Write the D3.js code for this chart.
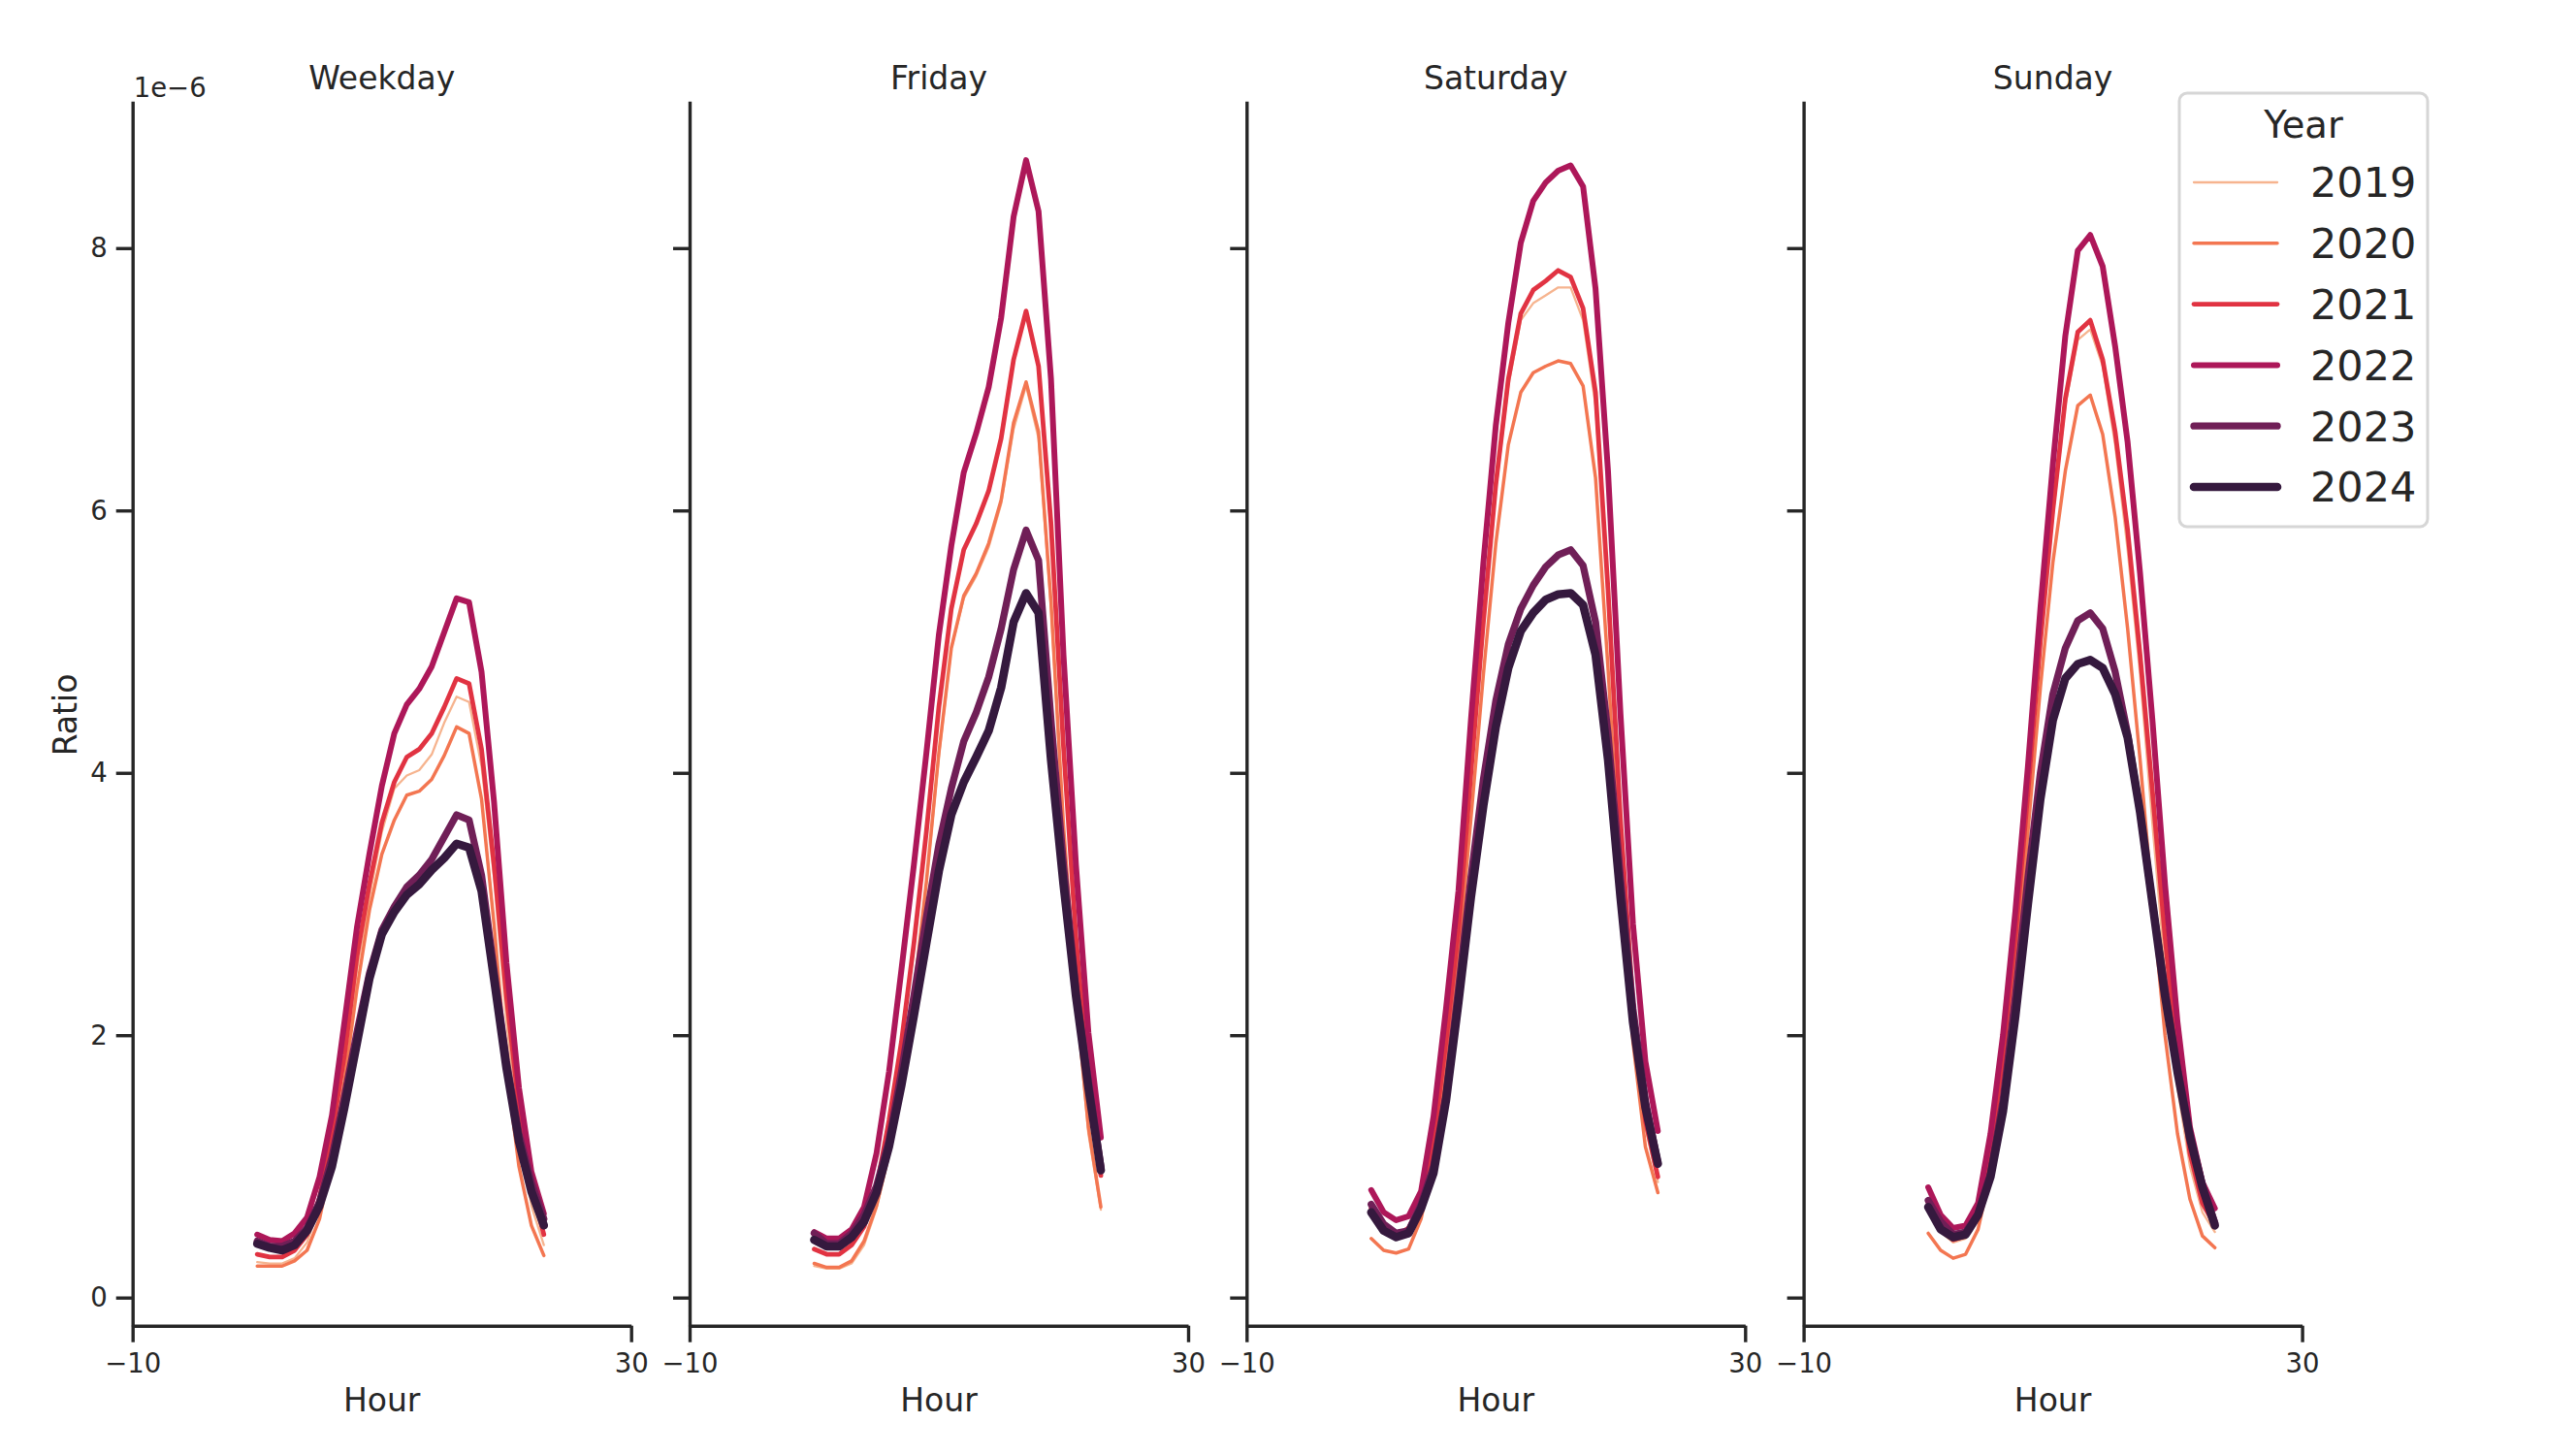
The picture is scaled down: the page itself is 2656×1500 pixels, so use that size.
<!DOCTYPE html>
<html>
<head>
<meta charset="utf-8">
<script src="https://cdn.jsdelivr.net/npm/d3@7"></script>
<style>
  body { margin: 0; background: #fff; }
  svg { display: block; }
  text { font-family: "DejaVu Sans", sans-serif; fill: #262626; }
</style>
</head>
<body>
<div id="chart"></div>
<script>
// ratio of traffic by hour, values in units of 1e-6
var hours = [0,1,2,3,4,5,6,7,8,9,10,11,12,13,14,15,16,17,18,19,20,21,22,23];
var years = ["2019","2020","2021","2022","2023","2024"];
var panels = ["Weekday","Friday","Saturday","Sunday"];
var xTicks = [-10, 30];
var yTicks = [0, 2, 4, 6, 8];

var wk2019 = [0.27,0.26,0.26,0.30,0.42,0.70,1.18,1.78,2.50,3.05,3.55,3.88,3.98,4.02,4.14,4.38,4.58,4.54,4.05,3.20,2.10,1.25,0.70,0.40];
var wk2020 = [0.24,0.24,0.24,0.28,0.36,0.60,1.05,1.65,2.35,2.95,3.38,3.64,3.83,3.86,3.95,4.13,4.35,4.30,3.80,2.85,1.75,1.00,0.55,0.32];
var wk2021 = [0.33,0.31,0.31,0.36,0.48,0.76,1.25,1.85,2.60,3.15,3.62,3.93,4.12,4.18,4.30,4.50,4.72,4.68,4.18,3.30,2.30,1.45,0.85,0.48];
var wk2022 = [0.48,0.44,0.43,0.49,0.61,0.92,1.39,2.10,2.82,3.38,3.90,4.30,4.52,4.64,4.81,5.07,5.33,5.30,4.77,3.78,2.55,1.60,0.96,0.64];
var wk2023 = [0.43,0.39,0.39,0.43,0.53,0.73,1.07,1.53,2.02,2.47,2.80,2.98,3.13,3.22,3.34,3.51,3.68,3.64,3.22,2.50,1.80,1.25,0.88,0.60];
var wk2024 = [0.41,0.38,0.36,0.40,0.51,0.70,1.00,1.45,1.94,2.43,2.77,2.94,3.07,3.15,3.26,3.35,3.46,3.43,3.10,2.43,1.75,1.19,0.81,0.55];

var fr2019 = [0.24,0.22,0.22,0.26,0.40,0.68,1.08,1.60,2.30,3.15,4.12,4.95,5.33,5.50,5.72,6.05,6.62,6.95,6.55,5.25,3.55,2.25,1.25,0.67];
var fr2020 = [0.26,0.23,0.23,0.28,0.43,0.70,1.10,1.62,2.32,3.17,4.15,4.95,5.35,5.52,5.75,6.08,6.67,6.98,6.60,5.30,3.60,2.30,1.30,0.69];
var fr2021 = [0.37,0.33,0.33,0.40,0.54,0.84,1.35,1.95,2.70,3.55,4.50,5.25,5.70,5.90,6.15,6.55,7.15,7.52,7.10,5.90,4.20,2.75,1.65,0.93];
var fr2022 = [0.50,0.45,0.45,0.52,0.69,1.10,1.72,2.50,3.30,4.15,5.05,5.73,6.29,6.59,6.94,7.47,8.24,8.67,8.28,7.00,4.90,3.30,2.02,1.22];
var fr2023 = [0.49,0.41,0.41,0.49,0.63,0.85,1.20,1.72,2.30,2.90,3.45,3.88,4.24,4.46,4.73,5.10,5.55,5.85,5.62,4.40,3.30,2.35,1.65,1.00];
var fr2024 = [0.44,0.39,0.39,0.46,0.58,0.80,1.15,1.62,2.15,2.70,3.25,3.68,3.93,4.12,4.32,4.65,5.15,5.37,5.22,4.10,3.15,2.30,1.60,0.97];

var sa2019 = [0.62,0.50,0.45,0.50,0.68,1.15,1.90,2.75,3.95,5.10,6.15,6.95,7.45,7.58,7.64,7.70,7.70,7.45,6.80,5.30,3.50,2.15,1.30,0.88];
var sa2020 = [0.45,0.36,0.34,0.37,0.60,1.05,1.75,2.60,3.65,4.75,5.75,6.50,6.90,7.05,7.10,7.14,7.12,6.95,6.25,4.80,3.20,1.95,1.15,0.80];
var sa2021 = [0.68,0.53,0.47,0.53,0.71,1.20,1.95,2.80,4.00,5.15,6.20,7.00,7.50,7.68,7.75,7.83,7.78,7.54,6.90,5.40,3.65,2.25,1.35,0.92];
var sa2022 = [0.82,0.65,0.59,0.62,0.81,1.38,2.20,3.10,4.40,5.60,6.65,7.43,8.04,8.36,8.50,8.59,8.63,8.47,7.69,6.30,4.45,2.85,1.80,1.27];
var sa2023 = [0.71,0.56,0.49,0.51,0.71,1.00,1.55,2.35,3.20,3.95,4.55,4.98,5.25,5.43,5.57,5.66,5.70,5.58,5.15,4.30,3.20,2.20,1.50,1.03];
var sa2024 = [0.65,0.51,0.46,0.49,0.68,0.95,1.50,2.25,3.05,3.75,4.35,4.80,5.08,5.22,5.32,5.36,5.37,5.28,4.90,4.10,3.05,2.10,1.45,1.02];

var su2019 = [0.65,0.50,0.42,0.45,0.60,1.05,1.80,2.70,3.80,4.95,5.95,6.80,7.30,7.38,7.10,6.50,5.70,4.75,3.60,2.50,1.60,1.00,0.65,0.50];
var su2020 = [0.49,0.36,0.30,0.33,0.52,0.95,1.65,2.50,3.55,4.65,5.60,6.30,6.80,6.88,6.58,5.95,5.10,4.10,3.00,2.00,1.25,0.75,0.47,0.38];
var su2021 = [0.71,0.55,0.44,0.47,0.63,1.10,1.85,2.75,3.85,5.00,6.00,6.85,7.36,7.45,7.15,6.60,5.85,4.90,3.85,2.75,1.80,1.10,0.72,0.55];
var su2022 = [0.84,0.63,0.53,0.55,0.72,1.25,2.00,2.95,4.05,5.25,6.35,7.33,7.98,8.10,7.86,7.25,6.52,5.52,4.39,3.15,2.10,1.30,0.88,0.68];
var su2023 = [0.74,0.58,0.48,0.50,0.64,0.95,1.50,2.30,3.20,4.00,4.60,4.95,5.16,5.22,5.10,4.77,4.30,3.70,3.00,2.35,1.75,1.25,0.86,0.57];
var su2024 = [0.69,0.52,0.46,0.48,0.63,0.92,1.42,2.15,3.00,3.80,4.40,4.72,4.83,4.86,4.80,4.60,4.27,3.70,3.00,2.30,1.72,1.22,0.84,0.55];

var panelData = {
  Weekday:  [wk2019, wk2020, wk2021, wk2022, wk2023, wk2024],
  Friday:   [fr2019, fr2020, fr2021, fr2022, fr2023, fr2024],
  Saturday: [sa2019, sa2020, sa2021, sa2022, sa2023, sa2024],
  Sunday:   [su2019, su2020, su2021, su2022, su2023, su2024]
};

// rocket palette, light to dark
var colors = ["#f6b48f", "#f37651", "#e13342", "#ad1759", "#701f57", "#35193e"];
var widths = [2.3, 3.5, 4.8, 6.0, 7.3, 8.6];

var totalWidth = 2656, totalHeight = 1500;
var left0 = 136.7, plotTop = 104.3, plotBottom = 1366.7;
var panelWidth = 514, panelStep = 574.3;
var ink = "#262626";

var svg = d3.select("#chart").append("svg")
    .attr("width", totalWidth)
    .attr("height", totalHeight);

var x = d3.scaleLinear().domain([-10, 30]).range([0, panelWidth]);
var y = d3.scaleLinear().domain([-0.2144, 9.12]).range([plotBottom - plotTop, 0]);

var line = d3.line()
    .x(function(d) { return x(d[0]); })
    .y(function(d) { return y(d[1]); });

panels.forEach(function(name, i) {
  var g = svg.append("g")
      .attr("transform", "translate(" + (left0 + i * panelStep) + "," + plotTop + ")");

  // series, light first so the dark years sit on top
  panelData[name].forEach(function(vals, k) {
    g.append("path")
      .datum(hours.map(function(h, j) { return [h, vals[j]]; }))
      .attr("fill", "none")
      .attr("stroke", colors[k])
      .attr("stroke-width", widths[k])
      .attr("stroke-linejoin", "round")
      .attr("stroke-linecap", "round")
      .attr("d", line);
  });

  var gx = g.append("g")
      .attr("transform", "translate(0," + (plotBottom - plotTop) + ")")
      .call(d3.axisBottom(x).tickValues(xTicks).tickSize(17).tickSizeOuter(0).tickPadding(12)
        .tickFormat(function(d) { return d < 0 ? "\u2212" + Math.abs(d) : d; }));

  var gy = g.append("g")
      .call(d3.axisLeft(y).tickValues(yTicks).tickSize(17).tickSizeOuter(0).tickPadding(9)
        .tickFormat(i === 0 ? d3.format("d") : function() { return ""; }));

  [gx, gy].forEach(function(ax) {
    ax.attr("font-size", 27.5).attr("font-family", "DejaVu Sans, sans-serif");
    ax.select(".domain").attr("stroke", ink).attr("stroke-width", 3.4);
    ax.selectAll(".tick line").attr("stroke", ink).attr("stroke-width", 3.4);
    ax.selectAll(".tick text").attr("fill", ink);
  });

  g.append("text")
    .attr("x", panelWidth / 2)
    .attr("y", 92.3 - plotTop)
    .attr("text-anchor", "middle")
    .attr("font-size", 33)
    .text(name);

  g.append("text")
    .attr("x", panelWidth / 2)
    .attr("y", 1455 - plotTop)
    .attr("text-anchor", "middle")
    .attr("font-size", 33)
    .text("Hour");

  if (i === 0) {
    g.append("text")
      .attr("x", 1)
      .attr("y", 100 - plotTop)
      .attr("font-size", 27.5)
      .text("1e\u22126");

    g.append("text")
      .attr("transform", "translate(" + (79 - left0) + "," + (737 - plotTop) + ") rotate(-90)")
      .attr("text-anchor", "middle")
      .attr("font-size", 33)
      .text("Ratio");
  }
});

// legend
var lg = svg.append("g").attr("transform", "translate(2247,96)");
lg.append("rect")
  .attr("x", 0).attr("y", 0)
  .attr("width", 256).attr("height", 447)
  .attr("rx", 8)
  .attr("fill", "#fff").attr("fill-opacity", 0.8)
  .attr("stroke", "#d6d6d6").attr("stroke-width", 3);

lg.append("text")
  .attr("x", 128).attr("y", 45.7)
  .attr("text-anchor", "middle")
  .attr("font-size", 38.5)
  .text("Year");

years.forEach(function(yr, k) {
  var cy = 92 + k * 62.8;
  lg.append("line")
    .attr("x1", 15).attr("x2", 101)
    .attr("y1", cy).attr("y2", cy)
    .attr("stroke", colors[k])
    .attr("stroke-width", widths[k])
    .attr("stroke-linecap", "round");
  lg.append("text")
    .attr("x", 135).attr("y", cy)
    .attr("dy", "0.36em")
    .attr("font-size", 43)
    .text(yr);
});
</script>
</body>
</html>
